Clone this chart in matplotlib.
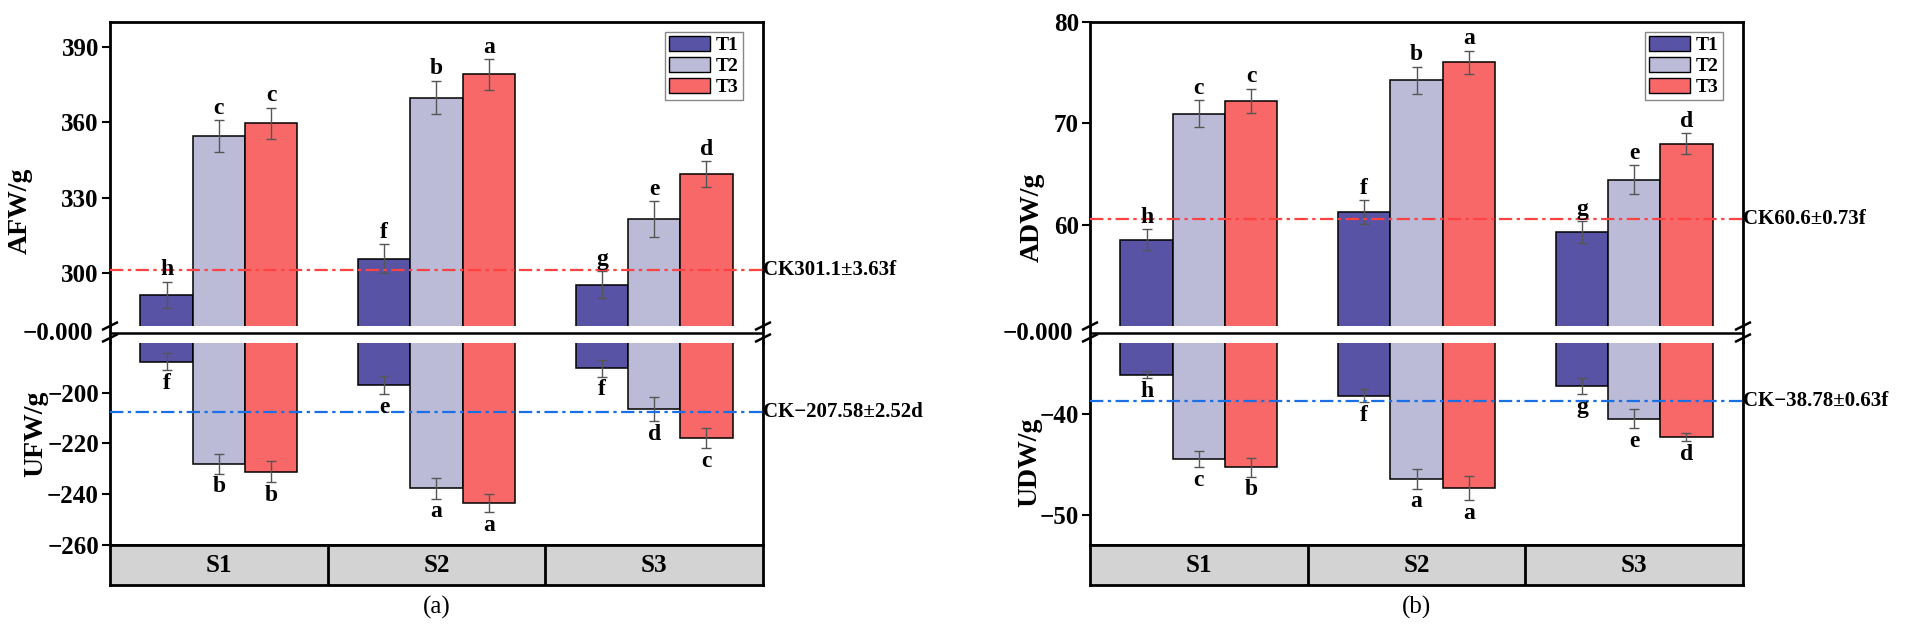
import matplotlib
matplotlib.use("Agg")
import matplotlib.pyplot as plt
from matplotlib.patches import Patch
from matplotlib.lines import Line2D
from matplotlib import transforms
import numpy as np

plt.rcParams['font.family'] = ['Liberation Serif', 'DejaVu Serif']
plt.rcParams['font.weight'] = 'bold'
plt.rcParams['mathtext.default'] = 'regular'

# ---------------- data ----------------
groups = ['S1', 'S2', 'S3']
treatments = ['T1', 'T2', 'T3']

afw_T1 = [291.5, 305.8, 295.5]
afw_T2 = [354.5, 369.9, 321.6]
afw_T3 = [359.7, 379.2, 339.5]
afw_err_T1 = [5.2, 5.7, 5.3]
afw_err_T2 = [6.3, 6.7, 7.0]
afw_err_T3 = [6.2, 6.1, 5.1]
afw_let_T1 = ['h', 'f', 'g']
afw_let_T2 = ['c', 'b', 'e']
afw_let_T3 = ['c', 'a', 'd']

ufw_T1 = [-187.8, -196.9, -190.4]
ufw_T2 = [-228.0, -237.6, -206.6]
ufw_T3 = [-231.1, -243.5, -217.9]
ufw_err_T1 = [3.3, 3.6, 3.3]
ufw_err_T2 = [3.9, 4.1, 4.7]
ufw_err_T3 = [4.1, 3.7, 4.1]
ufw_let_T1 = ['f', 'e', 'f']
ufw_let_T2 = ['b', 'a', 'd']
ufw_let_T3 = ['b', 'a', 'c']

adw_T1 = [58.5, 61.26, 59.25]
adw_T2 = [70.95, 74.23, 64.45]
adw_T3 = [72.21, 76.02, 67.97]
adw_err_T1 = [1.04, 1.15, 1.08]
adw_err_T2 = [1.31, 1.36, 1.43]
adw_err_T3 = [1.22, 1.13, 1.03]
adw_let_T1 = ['h', 'f', 'g']
adw_let_T2 = ['c', 'b', 'e']
adw_let_T3 = ['c', 'a', 'd']

udw_T1 = [-36.14, -38.2, -37.24]
udw_T2 = [-44.52, -46.43, -40.5]
udw_T3 = [-45.31, -47.37, -42.3]
udw_err_T1 = [0.33, 0.64, 0.8]
udw_err_T2 = [0.8, 0.98, 0.92]
udw_err_T3 = [0.92, 1.17, 0.42]
udw_let_T1 = ['h', 'f', 'g']
udw_let_T2 = ['c', 'a', 'e']
udw_let_T3 = ['b', 'a', 'd']

afw_ck, afw_ck_label = 301.1, 'CK301.1±3.63f'
ufw_ck, ufw_ck_label = -207.58, 'CK\u2212207.58±2.52d'
adw_ck, adw_ck_label = 60.6, 'CK60.6±0.73f'
udw_ck, udw_ck_label = -38.78, 'CK\u221238.78±0.63f'

afw_ticks = [300, 330, 360, 390]
ufw_ticks = [-260, -240, -220, -200]
adw_ticks = [60, 70, 80]
udw_ticks = [-50, -40]

# ---------------- style ----------------
colors = ['#5853A5', '#BBBBD7', '#F96868']
W, H = 1905, 626
fig = plt.figure(figsize=(W / 100, H / 100), dpi=100)

def fx(x):
    return x / W

def fy(y):
    return 1 - y / H

def axes_px(x0, x1, y0, y1):
    return fig.add_axes([fx(x0), fy(y1), fx(x1) - fx(x0), (y1 - y0) / H])

def fig_line(xs, ys, lw=1.8, color='black'):
    fig.add_artist(Line2D([fx(x) for x in xs], [fy(y) for y in ys],
                          lw=lw, color=color, solid_capstyle='butt'))

bar_w = 0.24
offsets = [-bar_w, 0.0, bar_w]
xc = np.arange(len(groups)) + 0.5


def draw_bars(ax, series, errs, lets, upper):
    for i, (vals, er, lt) in enumerate(zip(series, errs, lets)):
        xs = xc + offsets[i]
        ax.bar(xs, vals, width=bar_w, color=colors[i], edgecolor='black',
               linewidth=1.1, zorder=2)
        ax.errorbar(xs, vals, yerr=er, fmt='none', ecolor='#555555',
                    elinewidth=1.0, capsize=3.6, capthick=1.0, zorder=3)
        for x, v, e, l in zip(xs, vals, er, lt):
            if upper:
                ax.annotate(l, (x, v + e), xytext=(0, 1), textcoords='offset points',
                            ha='center', va='bottom', fontsize=17, fontweight='bold',
                            zorder=5, annotation_clip=False)
            else:
                ax.annotate(l, (x, v - e), xytext=(0, -2), textcoords='offset points',
                            ha='center', va='top', fontsize=17, fontweight='bold',
                            zorder=5, annotation_clip=False)


def style_axis(ax, ticks, ylim, top):
    ax.set_xlim(0, 3)
    ax.set_ylim(*ylim)
    ax.set_yticks(ticks)
    ax.set_yticklabels([str(t).replace('-', '\u2212') for t in ticks])
    ax.set_xticks([])
    ax.tick_params(axis='y', direction='out', length=6, width=1.5,
                   labelsize=18, pad=2)
    for lab in ax.get_yticklabels():
        lab.set_fontweight('bold')
    for s in ['left', 'right', 'top', 'bottom']:
        ax.spines[s].set_linewidth(2.0)
    if top:
        ax.spines['bottom'].set_visible(False)
    else:
        ax.spines['top'].set_visible(False)
    ax.set_facecolor('none')


def panel(x0, x1, up, up_err, up_let, lo, lo_err, lo_let, up_ck, up_ck_lab,
          lo_ck, lo_ck_lab, up_ticks, lo_ticks, up_lim, lo_lim,
          up_label, lo_label, up_lab_pos, lo_lab_pos, tag):
    ax_t = axes_px(x0, x1, 22, 326)
    ax_b = axes_px(x0, x1, 343, 545)
    ax_s = axes_px(x0, x1, 545, 585)

    draw_bars(ax_t, up, up_err, up_let, True)
    draw_bars(ax_b, lo, lo_err, lo_let, False)
    style_axis(ax_t, up_ticks, up_lim, True)
    style_axis(ax_b, lo_ticks, lo_lim, False)

    ax_t.axhline(up_ck, color='#FF4242', lw=1.6, ls=(0, (6, 2, 1.5, 2)), zorder=4)
    ax_b.axhline(lo_ck, color='#1A6FE6', lw=1.6, ls=(0, (6, 2, 1.5, 2)), zorder=4)
    tr_t = transforms.blended_transform_factory(ax_t.transAxes, ax_t.transData)
    tr_b = transforms.blended_transform_factory(ax_b.transAxes, ax_b.transData)
    ax_t.text(1.0, up_ck, up_ck_lab, transform=tr_t, ha='left', va='center',
              fontsize=15, fontweight='bold', clip_on=False)
    ax_b.text(1.0, lo_ck, lo_ck_lab, transform=tr_b, ha='left', va='center',
              fontsize=15, fontweight='bold', clip_on=False)

    ax_t.set_ylabel(up_label, fontsize=20, fontweight='bold')
    ax_t.yaxis.set_label_coords(*up_lab_pos)
    ax_b.set_ylabel(lo_label, fontsize=20, fontweight='bold')
    ax_b.yaxis.set_label_coords(*lo_lab_pos)

    handles = [Patch(facecolor=c, edgecolor='black', linewidth=1.0) for c in colors]
    leg = ax_t.legend(handles, treatments, loc='upper right',
                      bbox_to_anchor=(0.969, 0.967), borderaxespad=0,
                      prop={'size': 14, 'weight': 'bold'}, fancybox=False,
                      framealpha=1, edgecolor='#888888', handlelength=2.1,
                      handleheight=0.85, labelspacing=0.12, handletextpad=0.3,
                      borderpad=0.2)
    leg.get_frame().set_linewidth(1.0)

    # category strip
    ax_s.set_xlim(0, 3)
    ax_s.set_ylim(0, 1)
    ax_s.set_facecolor('#D3D3D3')
    ax_s.set_xticks([])
    ax_s.set_yticks([])
    for s in ax_s.spines.values():
        s.set_linewidth(2.0)
    for b in range(1, len(groups)):
        ax_s.axvline(b, color='black', lw=2.0)
    for x, g in zip(xc, groups):
        ax_s.text(x, 0.5, g, ha='center', va='center', fontsize=18, fontweight='bold')

    # break: horizontal line, spines through gap, slashes
    fig_line([x0, x1], [333, 333], lw=1.8)
    for sx in (x0, x1):
        fig_line([sx, sx], [325, 344], lw=2.0)
        for cy in (326, 338):
            fig_line([sx - 8, sx + 8], [cy + 4, cy - 4], lw=1.8)
    fig.text(fx(x0 - 17), fy(333), '\u22120.000', ha='right', va='center',
             fontsize=18, fontweight='bold')
    fig.text(fx((x0 + x1) / 2), fy(607), tag, ha='center', va='center',
             fontsize=18, fontweight='normal')


panel(110, 763,
      [afw_T1, afw_T2, afw_T3], [afw_err_T1, afw_err_T2, afw_err_T3],
      [afw_let_T1, afw_let_T2, afw_let_T3],
      [ufw_T1, ufw_T2, ufw_T3], [ufw_err_T1, ufw_err_T2, ufw_err_T3],
      [ufw_let_T1, ufw_let_T2, ufw_let_T3],
      afw_ck, afw_ck_label, ufw_ck, ufw_ck_label, afw_ticks, ufw_ticks,
      (279, 400), (-260, -180.5), 'AFW/g', 'UFW/g',
      (-0.119, 0.378), (-0.095, 0.55), '(a)')

panel(1090, 1743,
      [adw_T1, adw_T2, adw_T3], [adw_err_T1, adw_err_T2, adw_err_T3],
      [adw_let_T1, adw_let_T2, adw_let_T3],
      [udw_T1, udw_T2, udw_T3], [udw_err_T1, udw_err_T2, udw_err_T3],
      [udw_let_T1, udw_let_T2, udw_let_T3],
      adw_ck, adw_ck_label, udw_ck, udw_ck_label, adw_ticks, udw_ticks,
      (50, 80), (-53, -33), 'ADW/g', 'UDW/g',
      (-0.070, 0.359), (-0.073, 0.41), '(b)')

fig.savefig('out.png', dpi=100, facecolor='white')
